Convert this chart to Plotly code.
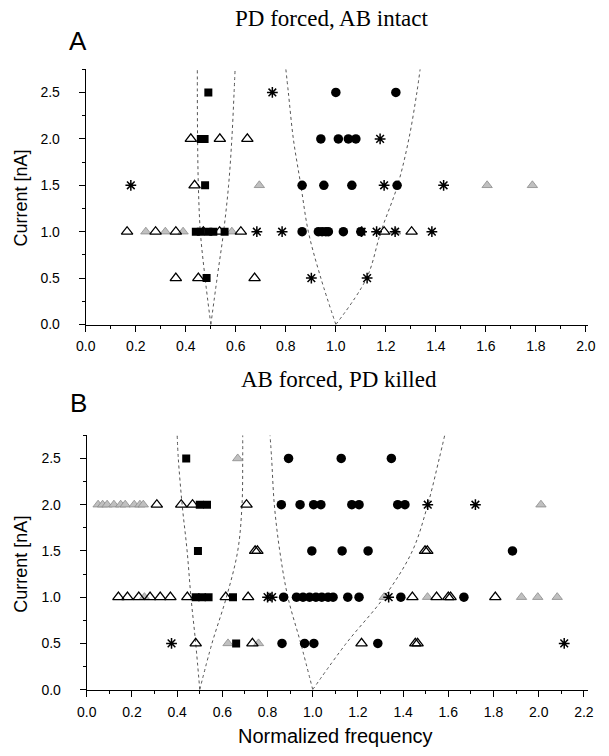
import plotly.graph_objects as go

# ---------------- Panel A data (PD forced, AB intact) ----------------
A_circle_f = [1.0, 1.24, 0.94, 1.01, 1.05, 1.08, 0.865, 0.952, 1.064, 1.245,
              0.865, 0.93, 0.945, 0.96, 0.97, 1.03, 1.10]
A_circle_i = [2.5, 2.5, 2.0, 2.0, 2.0, 2.0, 1.5, 1.5, 1.5, 1.5,
              1.0, 1.0, 1.0, 1.0, 1.0, 1.0, 1.0]
A_square_f = [0.49, 0.46, 0.475, 0.477, 0.44, 0.46, 0.49, 0.51, 0.555, 0.483]
A_square_i = [2.5, 2.0, 2.0, 1.5, 1.0, 1.0, 1.0, 1.0, 1.0, 0.5]
A_tri_f = [0.42, 0.536, 0.646, 0.435, 0.165, 0.279, 0.36, 0.47, 0.535, 0.62,
           1.193, 1.303, 0.36, 0.45, 0.675]
A_tri_i = [2.0, 2.0, 2.0, 1.5, 1.0, 1.0, 1.0, 1.0, 1.0, 1.0,
           1.0, 1.0, 0.5, 0.5, 0.5]
A_gray_f = [0.694, 1.605, 1.786, 0.24, 0.318, 0.389, 0.584, 1.239]
A_gray_i = [1.5, 1.5, 1.5, 1.0, 1.0, 1.0, 1.0, 1.0]
A_ast_f = [0.746, 1.177, 0.18, 1.193, 1.431, 0.684, 0.785, 1.103, 1.163, 1.237,
           1.384, 0.902, 1.125]
A_ast_i = [2.5, 2.0, 1.5, 1.5, 1.5, 1.0, 1.0, 1.0, 1.0, 1.0,
           1.0, 0.5, 0.5]

# reference curves (current levels and frequencies)
curve_i = [0.0, 0.5, 1.0, 1.5, 2.0, 2.5, 2.75]
A_c1_left = [0.5, 0.477, 0.458, 0.45, 0.447, 0.446, 0.446]
A_c1_right = [0.5, 0.525, 0.551, 0.571, 0.584, 0.593, 0.597]
A_c2_left = [1.0, 0.94, 0.89, 0.86, 0.83, 0.81, 0.80]
A_c2_right = [1.0, 1.123, 1.18, 1.247, 1.292, 1.324, 1.337]

# ---------------- Panel B data (AB forced, PD killed) ----------------
B_circle_f = [0.893, 1.126, 1.348,
              0.861, 0.944, 1.004, 1.036, 1.173, 1.205, 1.376, 1.408,
              0.996, 1.13, 1.245, 1.884,
              0.871, 0.928, 0.957, 0.986, 1.014, 1.04, 1.068, 1.09, 1.155, 1.205, 1.39, 1.669,
              0.864, 0.964, 1.005, 1.288]
B_circle_i = [2.5, 2.5, 2.5,
              2.0, 2.0, 2.0, 2.0, 2.0, 2.0, 2.0, 2.0,
              1.5, 1.5, 1.5, 1.5,
              1.0, 1.0, 1.0, 1.0, 1.0, 1.0, 1.0, 1.0, 1.0, 1.0, 1.0, 1.0,
              0.5, 0.5, 0.5, 0.5]
B_square_f = [0.44, 0.50, 0.532, 0.492, 0.482, 0.51, 0.539, 0.647, 0.661]
B_square_i = [2.5, 2.0, 2.0, 1.5, 1.0, 1.0, 1.0, 1.0, 0.5]
B_tri_f = [0.31, 0.418, 0.468, 0.707,
           0.745, 0.755, 1.497, 1.507,
           0.14, 0.18, 0.23, 0.28, 0.325, 0.37, 0.445, 0.615, 0.714, 1.441, 1.548, 1.60, 1.61, 1.808,
           0.482, 0.733, 1.216, 1.454, 1.464]
B_tri_i = [2.0, 2.0, 2.0, 2.0,
           1.5, 1.5, 1.5, 1.5,
           1.0, 1.0, 1.0, 1.0, 1.0, 1.0, 1.0, 1.0, 1.0, 1.0, 1.0, 1.0, 1.0, 1.0,
           0.5, 0.5, 0.5, 0.5, 0.5]
B_gray_f = [0.668,
            0.05, 0.07, 0.09, 0.12, 0.15, 0.17, 0.21, 0.235, 0.25, 2.01,
            0.255, 0.81, 1.316, 1.508, 1.924, 1.996, 2.082,
            0.625, 0.76]
B_gray_i = [2.5,
            2.0, 2.0, 2.0, 2.0, 2.0, 2.0, 2.0, 2.0, 2.0, 2.0,
            1.0, 1.0, 1.0, 1.0, 1.0, 1.0, 1.0,
            0.5, 0.5]
B_ast_f = [1.509, 1.72, 0.80, 0.82, 1.336, 0.375, 2.113]
B_ast_i = [2.0, 2.0, 1.0, 1.0, 1.0, 0.5, 0.5]

B_c1_left = [0.5, 0.482, 0.461, 0.444, 0.422, 0.405, 0.40]
B_c1_right = [0.5, 0.554, 0.618, 0.668, 0.687, 0.69, 0.69]
B_c2_left = [1.0, 0.947, 0.89, 0.854, 0.83, 0.818, 0.811]
B_c2_right = [1.0, 1.148, 1.316, 1.441, 1.509, 1.56, 1.584]

x_ticks_A = [0.0, 0.2, 0.4, 0.6, 0.8, 1.0, 1.2, 1.4, 1.6, 1.8, 2.0]
x_ticks_B = [0.0, 0.2, 0.4, 0.6, 0.8, 1.0, 1.2, 1.4, 1.6, 1.8, 2.0, 2.2]
y_ticks = [0.0, 0.5, 1.0, 1.5, 2.0, 2.5]

fig = go.Figure()

curve_style = dict(color="#555555", width=1, dash="dot", shape="spline")


def add_panel(xa, ya, curves, circ, sq, tri, gray, ast):
    for c in curves:
        fig.add_trace(go.Scatter(x=c, y=curve_i, mode="lines", line=curve_style,
                                 xaxis=xa, yaxis=ya, hoverinfo="skip"))
    fig.add_trace(go.Scatter(x=gray[0], y=gray[1], mode="markers", xaxis=xa, yaxis=ya,
                             marker=dict(symbol="triangle-up", size=9, color="#c0c0c0",
                                         line=dict(color="#8a8a8a", width=0.8))))
    fig.add_trace(go.Scatter(x=tri[0], y=tri[1], mode="markers", xaxis=xa, yaxis=ya,
                             marker=dict(symbol="triangle-up-open", size=10, color="black",
                                         line=dict(color="black", width=1.3))))
    fig.add_trace(go.Scatter(x=sq[0], y=sq[1], mode="markers", xaxis=xa, yaxis=ya,
                             marker=dict(symbol="square", size=8, color="black")))
    fig.add_trace(go.Scatter(x=circ[0], y=circ[1], mode="markers", xaxis=xa, yaxis=ya,
                             marker=dict(symbol="circle", size=9.5, color="black")))
    fig.add_trace(go.Scatter(x=ast[0], y=ast[1], mode="markers", xaxis=xa, yaxis=ya,
                             marker=dict(symbol="asterisk-open", size=9, color="black",
                                         line=dict(color="black", width=1.5))))


add_panel("x", "y", [A_c1_left, A_c1_right, A_c2_left, A_c2_right],
          (A_circle_f, A_circle_i), (A_square_f, A_square_i), (A_tri_f, A_tri_i),
          (A_gray_f, A_gray_i), (A_ast_f, A_ast_i))
add_panel("x2", "y2", [B_c1_left, B_c1_right, B_c2_left, B_c2_right],
          (B_circle_f, B_circle_i), (B_square_f, B_square_i), (B_tri_f, B_tri_i),
          (B_gray_f, B_gray_i), (B_ast_f, B_ast_i))

W, H = 609, 756
tickfont = dict(family="Liberation Sans, Arial, sans-serif", size=14, color="black")
axis_common = dict(showline=True, linecolor="black", linewidth=1.3, ticks="outside",
                   ticklen=6, tickwidth=1.2, tickcolor="black", showgrid=False,
                   zeroline=False, tickfont=tickfont, tickformat=".1f", mirror=False)
xminor = dict(dtick=0.1, tick0=0, ticklen=3, ticks="outside", tickcolor="black")
yminor = dict(dtick=0.25, tick0=0, ticklen=3, ticks="outside", tickcolor="black")

fig.update_layout(
    width=W, height=H, margin=dict(l=0, r=0, t=0, b=0),
    paper_bgcolor="white", plot_bgcolor="white", showlegend=False,
    xaxis=dict(axis_common, domain=[78 / W, 595 / W], range=[0, 2.01],
               tickvals=x_ticks_A, anchor="y", ticklabelstandoff=3, minor=xminor),
    yaxis=dict(axis_common, domain=[1 - 328 / H, 1 - 70 / H], range=[0, 2.75],
               tickvals=y_ticks, anchor="x", ticklabelstandoff=16, minor=yminor),
    xaxis2=dict(axis_common, domain=[79 / W, 595 / W], range=[0, 2.22],
                tickvals=x_ticks_B, anchor="y2", ticklabelstandoff=3, minor=xminor),
    yaxis2=dict(axis_common, domain=[1 - 697 / H, 1 - 440 / H], range=[0, 2.75],
                tickvals=y_ticks, anchor="x2", ticklabelstandoff=16, minor=yminor),
)

serif = dict(family="Liberation Serif, Times New Roman, serif", size=23, color="black")
sans_big = dict(family="Liberation Sans, Arial, sans-serif", size=26, color="black")
sans_lab = dict(family="Liberation Sans, Arial, sans-serif", size=18, color="black")
sans_xlab = dict(family="Liberation Sans, Arial, sans-serif", size=20, color="black")

ann = [
    dict(text="PD forced, AB intact", x=331 / W, y=1 - 19 / H, font=serif),
    dict(text="A", x=70 / W, y=1 - 41 / H, font=sans_big),
    dict(text="AB forced, PD killed", x=338 / W, y=1 - 384 / H, font=serif),
    dict(text="B", x=70 / W, y=1 - 407 / H, font=sans_big),
    dict(text="Current [nA]", x=11 / W, y=1 - 200 / H, font=sans_lab, textangle=-90),
    dict(text="Current [nA]", x=11 / W, y=1 - 570 / H, font=sans_lab, textangle=-90),
    dict(text="Normalized frequency", x=335 / W, y=1 - 744 / H, font=sans_xlab),
]
for a in ann:
    fig.add_annotation(xref="paper", yref="paper", showarrow=False,
                       xanchor="center", yanchor="middle", **a)

fig.write_html("out.html")
